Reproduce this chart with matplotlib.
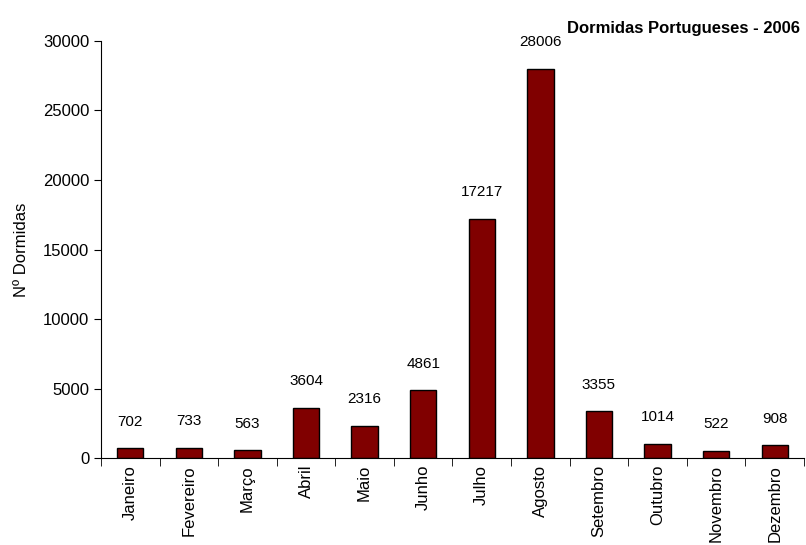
import matplotlib.pyplot as plt
import numpy as np

meses = ["Janeiro", "Fevereiro", "Março", "Abril", "Maio", "Junho",
         "Julho", "Agosto", "Setembro", "Outubro", "Novembro", "Dezembro"]
dormidas = [702, 733, 563, 3604, 2316, 4861, 17217, 28006, 3355, 1014, 522, 908]

plt.rcParams['font.family'] = ['Liberation Sans Narrow', 'Liberation Sans', 'DejaVu Sans']

fig = plt.figure(figsize=(8.06, 5.45), dpi=100)
ax = fig.add_axes([0.1253, 0.1596, 0.8722, 0.7652])

x = np.arange(len(meses))
bars = ax.bar(x, dormidas, width=0.45, color="#800000", edgecolor="black", linewidth=1)

for xi, v in zip(x, dormidas):
    ax.annotate(str(v), (xi, v), xytext=(0, 14), textcoords="offset points",
                ha="center", va="bottom", fontsize=11)

ax.set_xlim(-0.5, len(meses) - 0.5)
ax.set_ylim(0, 30000)
ax.set_yticks(range(0, 30001, 5000))
ax.tick_params(axis="y", labelsize=12, length=5, direction="out")

# month labels sit under the bars, ticks mark the category boundaries
ax.set_xticks(x)
ax.set_xticklabels(meses, rotation=90, fontsize=12)
ax.tick_params(axis="x", which="major", length=0, pad=5)
ax.set_xticks(np.arange(-0.5, len(meses)), minor=True)
ax.tick_params(axis="x", which="minor", length=6, direction="out")

for s in ["top", "right"]:
    ax.spines[s].set_visible(False)

ax.set_ylabel("Nº Dormidas", fontsize=12, labelpad=10)
fig.text(0.993, 0.948, "Dormidas Portugueses - 2006", ha="right", va="center",
         fontsize=12, fontweight="bold")

plt.savefig("out.png", dpi=100)
plt.close()
